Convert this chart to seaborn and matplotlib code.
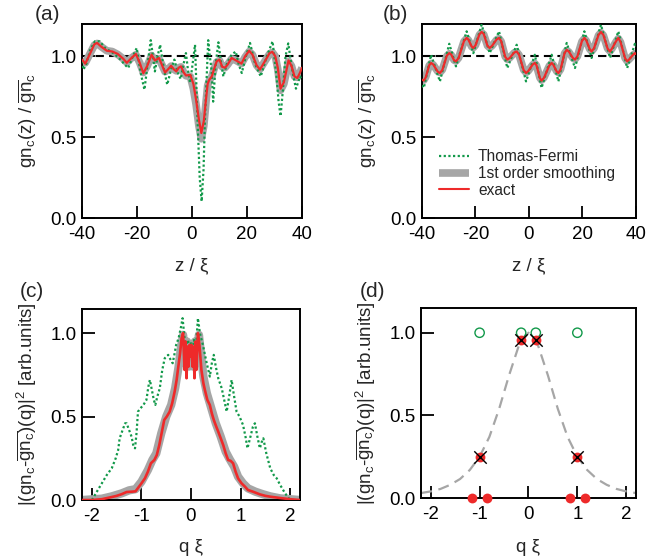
import numpy as np
import pandas as pd
import matplotlib
matplotlib.use("Agg")
import matplotlib.pyplot as plt
import seaborn as sns
from matplotlib.lines import Line2D

# ---- data ----
# (a) local density, exact / smoothing on one grid, Thomas-Fermi on its own
z_a = [-40, -38.8, -37, -35.5, -34.5, -33, -31, -29, -27, -25,
       -23.7, -22, -20.4, -19, -17.7, -16.3, -14.7, -13.5, -12, -11,
       -9.8, -8.7, -7.6, -6.6, -5.7, -4.8, -4, -3, -2.2, -0.6,
       0.5, 1.5, 2.5, 3.4, 4.3, 5, 5.7, 6.3, 7.2, 8,
       9, 10, 11, 12, 13, 14.4, 16, 18, 19.3, 20.8,
       22, 23.5, 24.7, 26.5, 28.2, 29.2, 30.3, 31.2, 32.2, 33.4,
       34.3, 35.1, 36.2, 37.3, 38.3, 39.3, 40]
exact_a = [0.98, 0.955, 1.02, 1.075, 1.083, 1.06, 1.035, 1.03, 1.015, 0.985,
           0.96, 0.99, 1.015, 0.96, 0.895, 0.94, 1.01, 0.975, 0.99, 0.95,
           0.9, 0.92, 0.942, 0.92, 0.907, 0.93, 0.938, 0.9, 0.882, 0.885,
           0.83, 0.73, 0.61, 0.526, 0.6, 0.72, 0.83, 0.856, 0.876, 0.92,
           0.97, 0.98, 0.935, 0.93, 0.95, 0.99, 0.975, 0.955, 1.0, 1.035,
           1.01, 0.945, 0.918, 0.97, 1.02, 1.028, 1.0, 0.93, 0.8, 0.84,
           0.91, 0.975, 0.94, 0.875, 0.866, 0.9, 0.93]
smooth_a = [0.975, 0.96, 1.02, 1.07, 1.08, 1.06, 1.035, 1.03, 1.012, 0.985,
            0.962, 0.99, 1.01, 0.96, 0.9, 0.94, 1.005, 0.975, 0.985, 0.95,
            0.905, 0.92, 0.94, 0.92, 0.91, 0.93, 0.935, 0.9, 0.88, 0.875,
            0.8, 0.7, 0.57, 0.49, 0.57, 0.7, 0.82, 0.85, 0.875, 0.92,
            0.965, 0.975, 0.935, 0.93, 0.95, 0.985, 0.975, 0.955, 0.995, 1.03,
            1.01, 0.945, 0.92, 0.97, 1.015, 1.025, 1.0, 0.92, 0.79, 0.83,
            0.9, 0.97, 0.94, 0.875, 0.87, 0.9, 0.93]
z_tf_a = [-40, -39.5, -38.5, -37, -35.3, -33.5, -31.5, -28.6, -26, -24.5,
          -23.2, -21.5, -20.1, -18.7, -17.3, -16, -15, -14.2, -13.5, -12.5,
          -11.6, -10.3, -9, -7.6, -6.4, -5.2, -4.1, -3.1, -2.2, -1.5,
          -0.7, 0.2, 1.1, 2.0, 2.8, 3.5, 4.2, 4.7, 5.9, 6.5,
          7.1, 7.7, 8.6, 9.6, 10.5, 11.4, 12.8, 14.4, 15.9, 17.0,
          18.1, 19.6, 21.1, 23, 25, 27.2, 29.3, 30.7, 31.5, 32.2,
          33.1, 34, 35, 36.4, 37.8, 38.6, 39.3, 40]
tf_a = [0.97, 0.918, 0.95, 1.04, 1.093, 1.093, 1.05, 1.02, 0.98, 0.95,
        0.928, 1.0, 1.052, 0.9, 0.794, 0.97, 1.10, 1.0, 0.907, 1.0,
        1.072, 0.93, 0.825, 0.92, 0.98, 0.9, 0.86, 0.95, 1.02, 0.92,
        0.835, 0.95, 1.072, 0.61, 0.25, 0.103, 0.3, 0.61, 1.10, 1.0,
        0.918, 0.72, 0.95, 1.087, 0.97, 0.876, 0.96, 1.01, 1.03, 0.95,
        0.897, 1.0, 1.083, 0.95, 0.876, 1.0, 1.093, 0.88, 0.72, 0.63,
        0.8, 1.0, 1.08, 0.92, 0.80, 0.84, 0.876, 0.85]

# (b) periodic potential
z_b = [-40, -39.3, -38.6, -37.3, -36.6, -35.8, -34.1, -33.3, -32.4, -30.7,
       -29.8, -29.1, -28.0, -27.3, -26.3, -24.3, -23.3, -22.7, -21.4, -20.8,
       -20.0, -18.5, -17.7, -16.9, -15.5, -14.7, -13.8, -12.1, -11.2, -10.4,
       -8.9, -8.1, -7.2, -5.5, -4.6, -3.7, -2.0, -1.1, -0.3, 1.4,
       2.2, 2.8, 4.1, 4.7, 5.6, 7.6, 8.5, 9.1, 10.4, 11,
       11.8, 13.3, 14.1, 14.9, 16.4, 17.2, 18.1, 19.8, 20.7, 21.4,
       22.7, 23.4, 24.3, 26.0, 26.9, 27.8, 29.4, 30.3, 31.1, 32.6,
       33.4, 34.2, 35.9, 36.7, 37.4, 38.9, 39.6, 40]
exact_b = [0.856, 0.85, 0.87, 0.945, 0.959, 0.95, 0.905, 0.897, 0.915, 1.005,
           1.02, 1.012, 0.976, 0.969, 0.99, 1.095, 1.114, 1.105, 1.06, 1.052,
           1.068, 1.137, 1.151, 1.138, 1.065, 1.052, 1.065, 1.105, 1.114, 1.095,
           0.998, 0.98, 0.99, 1.024, 1.03, 1.01, 0.915, 0.897, 0.908, 0.95,
           0.959, 0.945, 0.865, 0.85, 0.867, 0.943, 0.959, 0.948, 0.905, 0.897,
           0.918, 1.02, 1.04, 1.03, 0.99, 0.98, 1.0, 1.095, 1.114, 1.1,
           1.045, 1.03, 1.05, 1.133, 1.151, 1.133, 1.048, 1.03, 1.05, 1.095,
           1.114, 1.09, 0.99, 0.969, 0.98, 1.01, 1.02, 1.015]
smooth_b = [0.858, 0.853, 0.872, 0.943, 0.956, 0.948, 0.907, 0.9, 0.917, 1.002,
            1.016, 1.009, 0.977, 0.971, 0.991, 1.092, 1.11, 1.102, 1.06, 1.054,
            1.069, 1.134, 1.147, 1.135, 1.066, 1.054, 1.066, 1.102, 1.11, 1.092,
            0.999, 0.982, 0.991, 1.022, 1.027, 1.008, 0.917, 0.9, 0.91, 0.948,
            0.956, 0.943, 0.867, 0.853, 0.869, 0.941, 0.956, 0.946, 0.907, 0.9,
            0.92, 1.018, 1.036, 1.027, 0.99, 0.982, 1.0, 1.092, 1.11, 1.097,
            1.045, 1.032, 1.05, 1.13, 1.147, 1.13, 1.048, 1.032, 1.05, 1.092,
            1.11, 1.088, 0.99, 0.971, 0.981, 1.008, 1.016, 1.012]
z_tf_b = [-40, -39.3, -36.6, -33.3, -29.8, -27.3, -23.3, -20.8, -17.7, -14.7,
          -11.2, -8.1, -4.6, -1.1, 2.2, 4.7, 8.5, 11, 14.1, 17.2,
          20.7, 23.4, 26.9, 30.3, 33.4, 36.7, 39.6, 40]
tf_b = [0.82, 0.805, 1.01, 0.845, 1.078, 0.938, 1.155, 1.02, 1.196, 1.02,
        1.155, 0.928, 1.072, 0.845, 1.01, 0.805, 1.01, 0.845, 1.083, 0.928,
        1.155, 0.99, 1.196, 0.99, 1.155, 0.928, 1.078, 1.06]

# (c) power spectra
q_ex_c = [-2.2, -2.0, -1.8, -1.6, -1.5, -1.4, -1.3, -1.2, -1.12, -1.05,
          -1.0, -0.93, -0.87, -0.81, -0.74, -0.69, -0.64, -0.58, -0.54, -0.49,
          -0.43, -0.38, -0.33, -0.29, -0.26, -0.22, -0.19, -0.16, -0.13, -0.11,
          -0.09, -0.07, -0.05, -0.03, -0.01, 0.01, 0.03, 0.05, 0.07, 0.09,
          0.11, 0.14, 0.17, 0.21, 0.25, 0.28, 0.33, 0.38, 0.42, 0.46,
          0.51, 0.55, 0.6, 0.65, 0.7, 0.75, 0.8, 0.85, 0.9, 0.95,
          1.02, 1.09, 1.15, 1.25, 1.39, 1.5, 1.6, 1.8, 2.0, 2.2]
exact_c = [0.0, 0.0, 0.005, 0.018, 0.025, 0.035, 0.048, 0.05, 0.052, 0.08,
           0.1, 0.13, 0.17, 0.22, 0.24, 0.27, 0.33, 0.42, 0.48, 0.50,
           0.53, 0.58, 0.65, 0.72, 0.79, 0.88, 0.97, 1.0, 0.78, 0.95,
           0.73, 0.92, 0.80, 0.93, 0.86, 0.93, 0.80, 0.92, 0.73, 0.95,
           0.78, 1.0, 0.93, 0.78, 0.70, 0.66, 0.6, 0.57, 0.52, 0.48,
           0.44, 0.41, 0.37, 0.33, 0.28, 0.24, 0.235, 0.22, 0.17, 0.13,
           0.1, 0.08, 0.06, 0.05, 0.034, 0.025, 0.02, 0.012, 0.005, 0.0]
q_sm_c = [-2.2, -1.8, -1.6, -1.4, -1.25, -1.12, -1.0, -0.87, -0.78, -0.7,
          -0.6, -0.5, -0.4, -0.32, -0.25, -0.2, -0.16, -0.12, -0.08, -0.04,
          0.0, 0.04, 0.08, 0.12, 0.16, 0.2, 0.25, 0.32, 0.4, 0.5,
          0.6, 0.7, 0.78, 0.87, 0.95, 1.05, 1.15, 1.3, 1.45, 1.6,
          1.8, 2.2]
smooth_c = [0.0, 0.008, 0.022, 0.04, 0.058, 0.065, 0.11, 0.18, 0.24, 0.28,
            0.4, 0.5, 0.57, 0.67, 0.8, 0.92, 0.99, 0.82, 0.95, 0.8,
            0.92, 0.8, 0.95, 0.82, 0.99, 0.88, 0.74, 0.64, 0.56, 0.46,
            0.38, 0.29, 0.245, 0.2, 0.14, 0.1, 0.07, 0.05, 0.035, 0.022,
            0.01, 0.0]
q_tf_c = [-2.0, -1.9, -1.8, -1.7, -1.6, -1.52, -1.47, -1.44, -1.38, -1.33,
          -1.3, -1.25, -1.2, -1.16, -1.13, -1.1, -1.07, -1.02, -0.96, -0.9,
          -0.86, -0.83, -0.79, -0.75, -0.72, -0.68, -0.63, -0.58, -0.53, -0.46,
          -0.41, -0.37, -0.33, -0.3, -0.25, -0.2, -0.17, -0.13, -0.1, -0.06,
          -0.03, 0.0, 0.03, 0.06, 0.1, 0.14, 0.18, 0.24, 0.31, 0.38,
          0.42, 0.46, 0.5, 0.55, 0.62, 0.67, 0.72, 0.77, 0.82, 0.86,
          0.92, 0.98, 1.05, 1.1, 1.14, 1.2, 1.25, 1.29, 1.34, 1.39,
          1.43, 1.46, 1.52, 1.6, 1.67, 1.73, 1.8, 1.9, 2.0]
tf_c = [0.0, 0.05, 0.1, 0.15, 0.19, 0.25, 0.3, 0.37, 0.42, 0.46,
        0.46, 0.42, 0.38, 0.32, 0.31, 0.4, 0.53, 0.55, 0.57, 0.6,
        0.68, 0.72, 0.66, 0.6, 0.57, 0.62, 0.67, 0.78, 0.85, 0.87,
        0.84, 0.82, 0.88, 0.93, 0.97, 1.04, 1.09, 0.97, 0.92, 0.96,
        0.9, 0.94, 0.9, 0.96, 0.92, 1.09, 1.0, 0.93, 0.83, 0.74,
        0.82, 0.87, 0.8, 0.73, 0.67, 0.6, 0.53, 0.62, 0.72, 0.64,
        0.53, 0.5, 0.45, 0.38, 0.31, 0.38, 0.44, 0.46, 0.38, 0.31,
        0.35, 0.37, 0.28, 0.19, 0.15, 0.13, 0.09, 0.04, 0.0]

# (d) single-mode peaks
q_tf_d = [-1.0, -0.15, 0.15, 1.0]
tf_d = [1.0, 1.0, 1.0, 1.0]
q_ex_d = [-1.0, -0.15, 0.15, 1.0]
exact_d = [0.25, 0.956, 0.956, 0.25]
q_zero_d = [-1.15, -0.85, 0.85, 1.15]
zero_d = [0.0, 0.0, 0.0, 0.0]
q_fit_d = [-2.2, -2.0, -1.8, -1.6, -1.4, -1.2, -1.0, -0.8, -0.6, -0.4, -0.2, 0.0,
           0.2, 0.4, 0.6, 0.8, 1.0, 1.2, 1.4, 1.6, 1.8, 2.0, 2.2]
fit_d = [0.03, 0.04, 0.055, 0.08, 0.115, 0.17, 0.25, 0.37, 0.54, 0.74, 0.92, 1.0,
         0.92, 0.74, 0.54, 0.37, 0.25, 0.17, 0.115, 0.08, 0.055, 0.04, 0.03]

# ---- style ----
sns.set_style("ticks")
plt.rcParams['font.family'] = ['Liberation Sans', 'DejaVu Sans']
plt.rcParams['mathtext.fontset'] = 'custom'
plt.rcParams['mathtext.rm'] = 'Liberation Sans'
plt.rcParams['mathtext.it'] = 'Liberation Sans:italic'
plt.rcParams['axes.linewidth'] = 1.4
plt.rcParams['axes.unicode_minus'] = False

GREEN = "#12994a"
RED = "#ee2a2a"
GRAY = "#a6a6a6"
FS = 13.5

fig = plt.figure(figsize=(6.64, 5.59), dpi=100)
ax_a = fig.add_axes([0.1235, 0.610, 0.3313, 0.347])
ax_b = fig.add_axes([0.6355, 0.610, 0.3223, 0.347])
ax_c = fig.add_axes([0.1235, 0.1055, 0.3283, 0.3417])
ax_d = fig.add_axes([0.634, 0.1091, 0.3238, 0.340])

dotted = (0, (1, 1.1))

def style(ax, xlim, ylim, xt, yt):
    ax.set_xlim(*xlim)
    ax.set_ylim(*ylim)
    ax.set_xticks(xt)
    ax.set_yticks(yt)
    ax.tick_params(direction='in', length=9, width=1.3, labelsize=FS,
                   top=False, right=False, colors='black')
    ax.tick_params(axis='x', pad=6)
    ax.tick_params(axis='y', pad=4)
    for s in ax.spines.values():
        s.set_visible(True)
        s.set_color('black')

ylab_a = r'gn$_\mathrm{c}$(z) / $\overline{\mathrm{gn}}_\mathrm{c}$'
ylab_c = r'|(gn$_\mathrm{c}$-$\overline{\mathrm{gn}_\mathrm{c}}$)(q)|$^2$ [arb.units]'

# panels (a) and (b)
for ax, z, sm, tz, tf, ex in [(ax_a, z_a, smooth_a, z_tf_a, tf_a, exact_a),
                              (ax_b, z_b, smooth_b, z_tf_b, tf_b, exact_b)]:
    ax.axhline(1.0, color='black', lw=1.5, dashes=(4, 2.5), zorder=1)
    sns.lineplot(x=z, y=sm, ax=ax, color=GRAY, lw=5.5, estimator=None,
                 solid_capstyle='butt', zorder=2)
    sns.lineplot(x=tz, y=tf, ax=ax, color=GREEN, lw=1.6, linestyle=dotted,
                 estimator=None, zorder=3)
    sns.lineplot(x=z, y=ex, ax=ax, color=RED, lw=1.6, estimator=None, zorder=4)
    style(ax, (-40, 40), (0, 1.2), [-40, -20, 0, 20, 40], [0.0, 0.5, 1.0])
    ax.set_yticklabels(['0.0', '0.5', '1.0'])
    ax.set_xlabel(r'z / ξ', fontsize=FS, labelpad=10)
    ax.set_ylabel(ylab_a, fontsize=FS, labelpad=8)

handles = [Line2D([], [], color=GREEN, lw=1.6, linestyle=dotted),
           Line2D([], [], color=GRAY, lw=5.5, solid_capstyle='butt'),
           Line2D([], [], color=RED, lw=1.5)]
ax_b.legend(handles, ['Thomas-Fermi', '1st order smoothing', 'exact'],
            loc='upper left', bbox_to_anchor=(0.08, 0.355), frameon=False,
            fontsize=11.2, handlelength=1.9, handletextpad=0.6,
            labelspacing=0.12, borderpad=0, borderaxespad=0)

# panel (c)
sns.lineplot(x=q_sm_c, y=smooth_c, ax=ax_c, color=GRAY, lw=6, estimator=None, zorder=2)
sns.lineplot(x=q_tf_c, y=tf_c, ax=ax_c, color=GREEN, lw=1.6, linestyle=dotted,
             estimator=None, zorder=3)
sns.lineplot(x=q_ex_c, y=exact_c, ax=ax_c, color=RED, lw=1.9, estimator=None, zorder=4)
style(ax_c, (-2.2, 2.2), (0, 1.145), [-2, -1, 0, 1, 2], [0.0, 0.5, 1.0])
ax_c.set_yticklabels(['0.0', '0.5', '1.0'])
ax_c.set_xlabel(r'q ξ', fontsize=FS, labelpad=10)
ax_c.set_ylabel(ylab_c, fontsize=FS, labelpad=8)

# panel (d)
sns.lineplot(x=q_fit_d, y=fit_d, ax=ax_d, color=GRAY, lw=1.6,
             estimator=None, zorder=1).lines[0].set_dashes((5, 3))
sns.scatterplot(x=q_tf_d, y=tf_d, ax=ax_d, marker='o', s=45,
                facecolors='none', edgecolor=GREEN, linewidth=1.0, zorder=3)
sns.scatterplot(x=q_ex_d, y=exact_d, ax=ax_d, marker='o', s=50, color=RED,
                edgecolor=RED, linewidth=0, zorder=3)
sns.scatterplot(x=q_ex_d, y=exact_d, ax=ax_d, marker='x', s=80, color='black',
                linewidth=1.0, zorder=4)
sns.scatterplot(x=q_zero_d, y=zero_d, ax=ax_d, marker='o', s=50, color=RED,
                edgecolor=RED, linewidth=0, zorder=5, clip_on=False)
style(ax_d, (-2.2, 2.2), (0, 1.15), [-2, -1, 0, 1, 2], [0.0, 0.5, 1.0])
ax_d.set_yticklabels(['0.0', '0.5', '1.0'])
ax_d.set_xlabel(r'q ξ', fontsize=FS, labelpad=11)
ax_d.set_ylabel(ylab_c, fontsize=FS, labelpad=8)

# panel letters
for x, y, t in [(0.052, 0.991, '(a)'), (0.577, 0.991, '(b)'),
                (0.030, 0.495, '(c)'), (0.542, 0.495, '(d)')]:
    fig.text(x, y, t, fontsize=15, va='top', ha='left')

fig.savefig("out.png", dpi=100)
